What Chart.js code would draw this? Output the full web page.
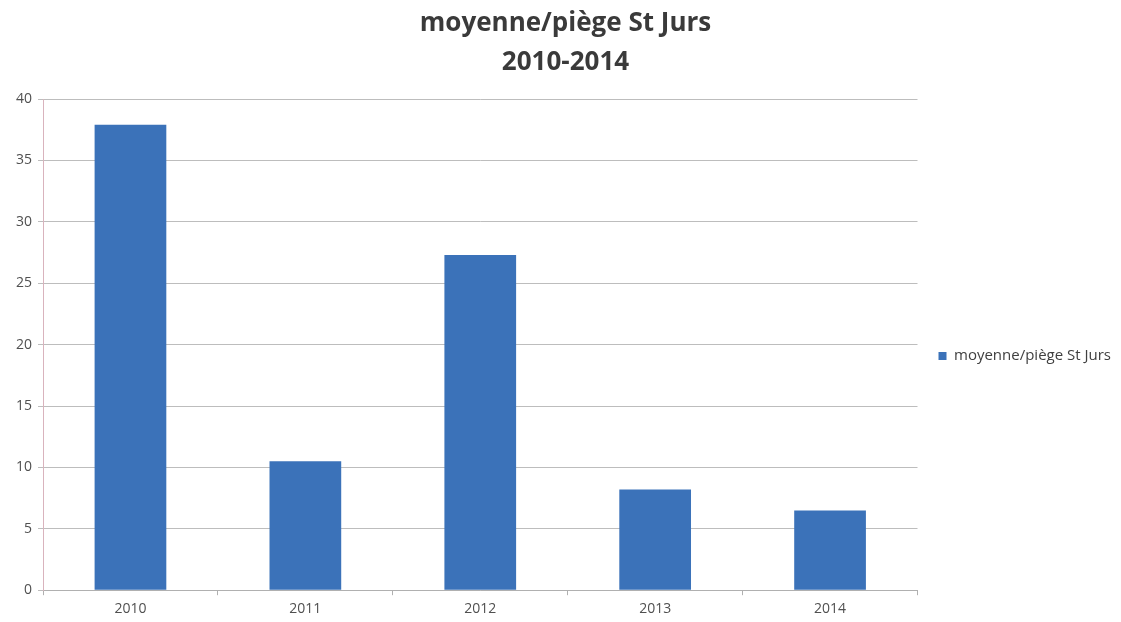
<!DOCTYPE html>
<html>
<head>
<meta charset="utf-8">
<script src="https://cdn.jsdelivr.net/npm/chart.js@4"></script>
<style>
  body { margin: 0; background: #fff; }
  #wrap { width: 1121px; height: 622px; }
</style>
</head>
<body>
<div id="wrap"><canvas id="chart"></canvas></div>
<script>
// Données du graphique
const years = ['2010', '2011', '2012', '2013', '2014'];
const moyennes = [37.9, 10.5, 27.3, 8.2, 6.5];
const seriesName = 'moyenne/piège St Jurs';
const titleLines = ['moyenne/piège St Jurs', '2010-2014'];

const ctx = document.getElementById('chart').getContext('2d');

new Chart(ctx, {
    type: 'bar',
    data: {
        labels: years,
        datasets: [{
            label: seriesName,
            data: moyennes,
            backgroundColor: '#3b72b9',
            categoryPercentage: 1,
            barPercentage: 0.41
        }]
    },
    options: {
        responsive: true,
        maintainAspectRatio: false,
        animation: false,
        layout: { padding: { left: 10, right: 0, top: 0, bottom: 0 } },
        plugins: {
            title: {
                display: true,
                text: titleLines,
                color: '#3a3a3a',
                font: { family: 'Open Sans', size: 26, weight: 'bold', lineHeight: 1.5 },
                padding: { top: 4, bottom: 17 }
            },
            legend: {
                position: 'right',
                // titre vide pour descendre un peu la légende
                title: {
                    display: true,
                    text: ' ',
                    font: { size: 10 },
                    padding: { top: 0, bottom: 78 }
                },
                labels: {
                    boxWidth: 8,
                    boxHeight: 8,
                    color: '#404040',
                    font: { family: 'Open Sans', size: 15 },
                    padding: 21
                }
            },
            tooltip: { enabled: false }
        },
        scales: {
            x: {
                grid: {
                    display: true,
                    drawOnChartArea: false,
                    drawTicks: true,
                    tickLength: 5,
                    color: '#b0b0b0'
                },
                border: { color: '#b0b0b0' },
                ticks: {
                    color: '#505050',
                    font: { family: 'Open Sans', size: 14 },
                    padding: 5
                }
            },
            y: {
                min: 0,
                max: 40,
                ticks: {
                    stepSize: 5,
                    color: '#505050',
                    font: { family: 'Open Sans', size: 14 },
                    padding: 6
                },
                grid: {
                    color: '#bdbdbd',
                    tickLength: 5
                },
                border: { color: '#d9b3bd' }
            }
        }
    }
});
</script>
</body>
</html>
